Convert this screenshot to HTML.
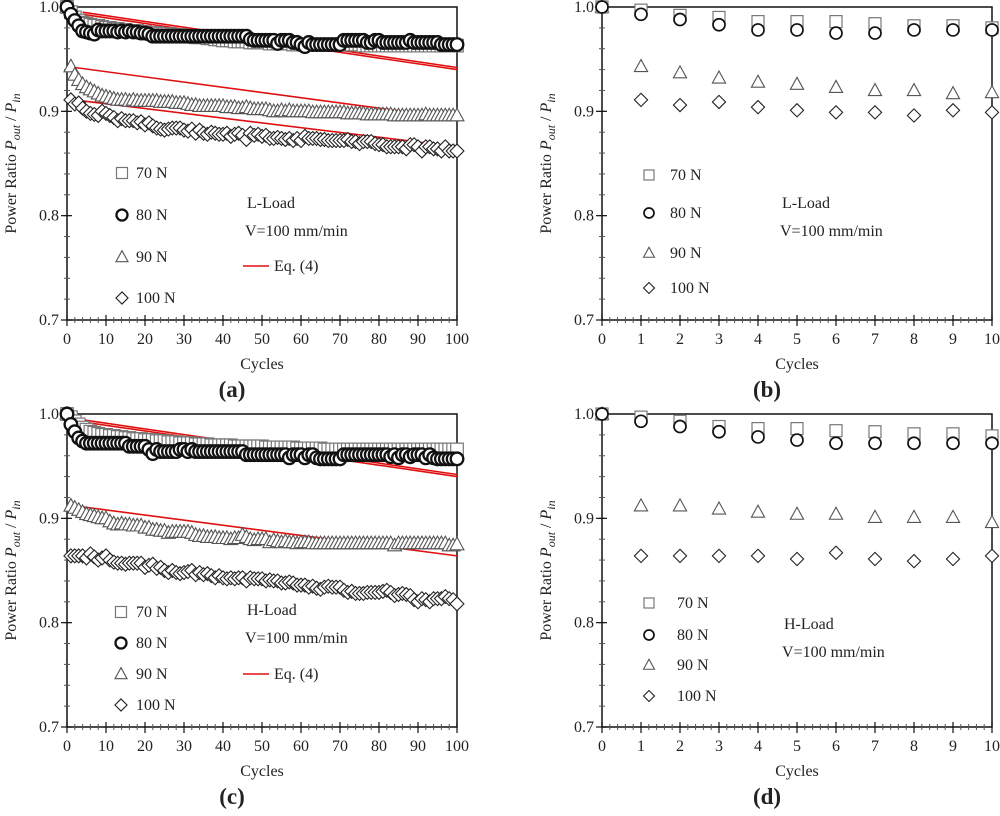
<!DOCTYPE html>
<html><head><meta charset="utf-8"><style>
body{margin:0;background:#fff}
svg text{font-family:"Liberation Serif",serif;fill:#222}
</style></head><body>
<svg id="fig" width="1000" height="811" viewBox="0 0 1000 811" xmlns="http://www.w3.org/2000/svg"></svg>
<script>
// ---- Panel (a) data: L-Load, 0..100 cycles ----
const aS70=[1,.995,.99,.987,.985,.984,.983,.982,.982,.981,.98,.98,.979,.979,.978,.978,.977,.977,.977,.976,.976,.975,.975,.975,.974,.974,.974,.973,.973,.973,.972,.972,.972,.971,.971,.971,.97,.97,.969,.969,.968,.968,.968,.967,.967,.967,.967,.966,.966,.966,.966,.966,.965,.965,.965,.965,.965,.965,.964,.964,.964,.964,.964,.964,.964,.964,.964,.964,.964,.964,.964,.964,.964,.964,.964,.964,.963,.963,.963,.963,.963,.963,.963,.963,.963,.963,.963,.963,.963,.963,.963,.963,.963,.963,.963,.963,.963,.963,.963,.963,.963];
const aS80=[1,.993,.987,.982,.977,.976,.975,.974,.978,.977,.977,.977,.977,.976,.977,.976,.977,.976,.976,.975,.975,.974,.972,.972,.972,.972,.972,.972,.972,.972,.972,.972,.972,.972,.972,.972,.972,.972,.972,.972,.972,.972,.972,.972,.972,.972,.972,.969,.968,.968,.968,.968,.968,.968,.965,.968,.968,.968,.966,.966,.964,.962,.966,.964,.964,.964,.964,.964,.964,.964,.964,.968,.968,.968,.968,.968,.968,.966,.966,.968,.968,.966,.966,.966,.966,.966,.966,.966,.968,.966,.966,.966,.966,.966,.966,.966,.964,.964,.964,.964,.964];
const aS90=[1,.943,.935,.93,.926,.923,.921,.919,.917,.915,.914,.913,.912,.911,.911,.911,.91,.911,.91,.91,.91,.91,.91,.91,.909,.909,.909,.909,.908,.908,.908,.907,.906,.906,.905,.905,.905,.905,.905,.905,.905,.904,.904,.904,.903,.903,.904,.903,.902,.902,.902,.902,.901,.9,.9,.901,.9,.901,.9,.9,.9,.9,.9,.899,.899,.899,.899,.899,.899,.899,.899,.899,.898,.898,.898,.898,.898,.897,.897,.897,.897,.897,.897,.897,.896,.896,.896,.896,.896,.896,.896,.896,.897,.896,.896,.896,.896,.896,.896,.896,.896];
const aS100=[1,.911,.907,.908,.903,.9,.898,.897,.896,.9,.898,.896,.894,.891,.893,.891,.891,.891,.889,.89,.887,.889,.886,.884,.883,.882,.883,.884,.884,.884,.882,.881,.883,.879,.882,.879,.878,.88,.879,.878,.878,.879,.876,.878,.879,.877,.873,.879,.877,.878,.876,.877,.874,.874,.875,.874,.873,.874,.872,.874,.872,.876,.874,.874,.874,.873,.873,.872,.872,.872,.872,.872,.873,.871,.871,.869,.871,.871,.871,.869,.868,.868,.866,.866,.866,.866,.866,.864,.868,.868,.866,.862,.866,.866,.864,.864,.862,.866,.862,.862,.862];
const aFitX=[[4,100],[4,100],[2,100],[4,100]];
const aFitY=[[.995,.942],[.993,.940],[.942,.893],[.910,.866]];
// ---- Panel (b) data: L-Load, 0..10 cycles ----
const bS70=[1,.997,.992,.99,.986,.986,.986,.984,.982,.982,.98];
const bS80=[1,.993,.988,.983,.978,.978,.975,.975,.978,.978,.978];
const bS90=[1,.943,.937,.932,.928,.926,.923,.92,.92,.917,.918];
const bS100=[1,.911,.906,.909,.904,.901,.899,.899,.896,.901,.899];
// ---- Panel (c) data: H-Load, 0..100 cycles ----
const cS70=[1,.997,.993,.99,.987,.985,.983,.982,.981,.98,.98,.979,.979,.978,.978,.977,.977,.976,.976,.976,.975,.975,.975,.974,.974,.974,.973,.973,.973,.972,.972,.972,.972,.971,.971,.971,.971,.97,.97,.97,.97,.97,.97,.969,.969,.969,.969,.969,.969,.969,.969,.968,.968,.968,.968,.968,.968,.968,.968,.967,.967,.967,.967,.967,.967,.967,.966,.966,.966,.966,.966,.966,.966,.966,.966,.966,.966,.966,.966,.966,.966,.966,.966,.966,.966,.966,.966,.966,.966,.966,.966,.966,.966,.966,.966,.966,.966,.966,.966,.966,.966];
const cS80=[1,.99,.983,.977,.974,.972,.972,.972,.972,.972,.972,.972,.972,.972,.972,.972,.969,.969,.969,.969,.969,.966,.962,.966,.964,.964,.964,.964,.964,.966,.966,.964,.966,.964,.964,.964,.964,.964,.964,.964,.964,.964,.964,.964,.964,.964,.961,.961,.961,.961,.961,.961,.961,.961,.961,.961,.961,.958,.961,.961,.961,.958,.961,.961,.958,.957,.957,.957,.957,.957,.957,.961,.961,.961,.961,.961,.961,.961,.961,.961,.961,.961,.961,.959,.961,.958,.961,.961,.959,.961,.961,.961,.958,.961,.958,.957,.957,.957,.957,.957,.957];
const cS90=[1,.912,.91,.908,.906,.904,.903,.902,.901,.9,.9,.897,.895,.894,.895,.894,.894,.893,.893,.893,.891,.891,.889,.889,.888,.888,.886,.887,.887,.887,.887,.887,.886,.884,.883,.883,.882,.882,.882,.881,.881,.881,.88,.881,.881,.884,.882,.88,.879,.88,.88,.88,.877,.879,.878,.877,.878,.877,.877,.876,.877,.877,.877,.876,.876,.876,.876,.876,.876,.876,.876,.876,.876,.876,.876,.876,.876,.876,.876,.876,.876,.876,.876,.876,.874,.876,.876,.876,.876,.876,.876,.876,.876,.876,.876,.876,.876,.876,.874,.874,.875];
const cS100=[1,.864,.864,.864,.864,.862,.866,.863,.86,.862,.864,.86,.858,.857,.857,.856,.857,.857,.857,.857,.853,.855,.856,.852,.853,.85,.848,.85,.848,.847,.848,.849,.85,.846,.848,.846,.847,.845,.843,.845,.843,.842,.843,.842,.843,.843,.84,.843,.842,.842,.842,.84,.841,.84,.84,.838,.838,.839,.838,.836,.836,.836,.834,.835,.833,.832,.834,.835,.834,.834,.834,.831,.829,.83,.828,.828,.828,.829,.829,.829,.829,.83,.831,.829,.826,.827,.828,.827,.826,.822,.82,.823,.822,.82,.823,.823,.823,.825,.823,.822,.818];
const cFitX=[[3,100],[3,100],[4,100],[3,100]];
const cFitY=[[.995,.942],[.993,.940],[.911,.864],[.862,.820]];
// ---- Panel (d) data: H-Load, 0..10 cycles ----
const dS70=[1,.997,.993,.988,.986,.986,.984,.983,.981,.981,.979];
const dS80=[1,.993,.988,.983,.978,.975,.972,.972,.972,.972,.972];
const dS90=[1,.912,.912,.909,.906,.904,.904,.901,.901,.901,.896];
const dS100=[1,.864,.864,.864,.864,.861,.867,.861,.859,.861,.864];
const yTicks=["0.7","0.8","0.9","1.0"];
const xTicksA=["0","10","20","30","40","50","60","70","80","90","100"];
const xTicksB=["0","1","2","3","4","5","6","7","8","9","10"];
const legendLabels=["70 N","80 N","90 N","100 N"];

const NS="http://www.w3.org/2000/svg";
const svg=document.getElementById('fig');
function mk(tag,attrs,parent){const e=document.createElementNS(NS,tag);for(const k in attrs)e.setAttribute(k,attrs[k]);(parent||svg).appendChild(e);return e;}

function marker(g,type,cx,cy,s,name,thick){
  let e;
  if(type===0){e=mk('rect',{x:cx-s,y:cy-s,width:2*s,height:2*s,fill:'#fff',stroke:'#777','stroke-width':1.2},g);}
  else if(type===1){e=mk('circle',{cx:cx,cy:cy,r:s,fill:'#fff',stroke:'#111','stroke-width':thick?2.3:1.7},g);}
  else if(type===2){e=mk('polygon',{points:`${cx},${cy-s*1.15} ${cx+s*1.1},${cy+s*0.85} ${cx-s*1.1},${cy+s*0.85}`,fill:'#fff',stroke:'#555','stroke-width':1.1},g);}
  else {e=mk('polygon',{points:`${cx},${cy-s*1.1} ${cx+s*1.1},${cy} ${cx},${cy+s*1.1} ${cx-s*1.1},${cy}`,fill:'#fff',stroke:'#222','stroke-width':1.1},g);}
  
  
  return e;
}

function panel(o){
  const g=mk('g',{});
  
  
  const X=v=>o.x0+(v-o.xmin)/(o.xmax-o.xmin)*(o.x1-o.x0);
  const Y=v=>o.y1+(v-0.7)/0.3*(o.y0-o.y1);
  const fr=mk('rect',{x:o.x0,y:o.y0,width:o.x1-o.x0,height:o.y1-o.y0,fill:'none',stroke:'#111','stroke-width':1.5},g);
  
  for(let i=0;i<=15;i++){const v=0.7+i*0.02;const yy=Y(v);
    mk('line',{x1:o.x0-3,x2:o.x0+3,y1:yy,y2:yy,stroke:'#555','stroke-width':1},g);}
  yTicks.forEach(t=>{const yy=Y(parseFloat(t));
    mk('line',{x1:o.x0-6,x2:o.x0+5,y1:yy,y2:yy,stroke:'#111','stroke-width':1.2},g);
    const tx=mk('text',{x:o.x0-8,y:yy+5,'text-anchor':'end','font-size':16},g);tx.textContent=t;
    });
  const xt=o.xt;const step=(o.xmax-o.xmin)/(xt.length-1);
  for(let i=0;i<=(xt.length-1)*5;i++){const xx=X(o.xmin+i*step/5);
    mk('line',{x1:xx,x2:xx,y1:o.y1-3,y2:o.y1+3,stroke:'#555','stroke-width':1},g);}
  xt.forEach(t=>{const xx=X(parseFloat(t));
    mk('line',{x1:xx,x2:xx,y1:o.y1-5,y2:o.y1+6,stroke:'#111','stroke-width':1.2},g);
    const tx=mk('text',{x:xx,y:o.y1+24,'text-anchor':'middle','font-size':16},g);tx.textContent=t;
    });
  const xl=mk('text',{x:(o.x0+o.x1)/2,y:o.y1+49,'text-anchor':'middle','font-size':16},g);xl.textContent='Cycles';
  
  const yl=mk('text',{x:0,y:0,'text-anchor':'middle','font-size':16,transform:`translate(${o.x0-51},${(o.y0+o.y1)/2}) rotate(-90)`},g);
  yl.innerHTML='Power Ratio <tspan font-style="italic">P</tspan><tspan font-style="italic" font-size="12" dy="4">out</tspan><tspan dy="-4"> / </tspan><tspan font-style="italic">P</tspan><tspan font-style="italic" font-size="12" dy="4">in</tspan>';
  
  const pl=mk('text',{x:(o.x0+o.x1)/2-30,y:o.y1+77,'text-anchor':'middle','font-size':23,'font-weight':'bold'},g);pl.textContent='('+o.id+')';
  
  if(o.fitX){o.fitX.forEach((fx,i)=>{const fy=o.fitY[i];
    const ln=mk('line',{x1:X(fx[0]),y1:Y(fy[0]),x2:X(fx[1]),y2:Y(fy[1]),stroke:'#e01010','stroke-width':1.6},g);
    });}
  const names=['series-70n','series-80n','series-90n','series-100n'];
  const order=[3,2,0,1];
  order.forEach(k=>{const s=o.series[k];
    const sg=mk('g',{},g);
    s.forEach((v,i)=>marker(sg,k,X(o.xmin+i),Y(v),o.ms,'point',o.thick));});
  o.leg.forEach((p,k)=>{
    marker(g,k,p[0],p[1],o.lms,'legend-marker-'+legendLabels[k].replace(' ','').toLowerCase(),o.thick);
    const t=mk('text',{x:o.lt,y:p[1]+5,'font-size':16},g);t.textContent=legendLabels[k];
    });
  const t1=mk('text',{x:o.note[0],y:o.note[1],'font-size':16},g);t1.textContent=o.load;
  
  const t2=mk('text',{x:o.note[0]-2,y:o.note[1]+28,'font-size':16},g);t2.textContent='V=100 mm/min';
  
  if(o.eq){const l=mk('line',{x1:o.eq[0],x2:o.eq[0]+26,y1:o.eq[1],y2:o.eq[1],stroke:'#e01010','stroke-width':1.6},g);
    
    const t=mk('text',{x:o.eq[0]+31,y:o.eq[1]+5,'font-size':16},g);t.textContent='Eq. (4)';
    }
}

panel({id:'a',x0:67,x1:457,y0:7,y1:320,xmin:0,xmax:100,xt:xTicksA,series:[aS70,aS80,aS90,aS100],fitX:aFitX,fitY:aFitY,ms:6.3,lms:5.5,thick:true,
  leg:[[122,173],[122,215],[122,257],[122,298]],lt:136,load:'L-Load',note:[247,208],eq:[243,266]});
panel({id:'b',x0:602,x1:992,y0:7,y1:320,xmin:0,xmax:10,xt:xTicksB,series:[bS70,bS80,bS90,bS100],ms:6,lms:5,thick:false,
  leg:[[649,175],[649,213],[649,253],[649,288]],lt:670,load:'L-Load',note:[782,208]});
panel({id:'c',x0:67,x1:457,y0:414,y1:727,xmin:0,xmax:100,xt:xTicksA,series:[cS70,cS80,cS90,cS100],fitX:cFitX,fitY:cFitY,ms:6.3,lms:5.5,thick:true,
  leg:[[121,612],[121,643],[121,674],[121,705]],lt:136,load:'H-Load',note:[247,615],eq:[243,674]});
panel({id:'d',x0:602,x1:992,y0:414,y1:727,xmin:0,xmax:10,xt:xTicksB,series:[dS70,dS80,dS90,dS100],ms:6,lms:5,thick:false,
  leg:[[649,603],[649,635],[649,665],[649,696]],lt:677,load:'H-Load',note:[784,629]});
</script>
</body></html>
